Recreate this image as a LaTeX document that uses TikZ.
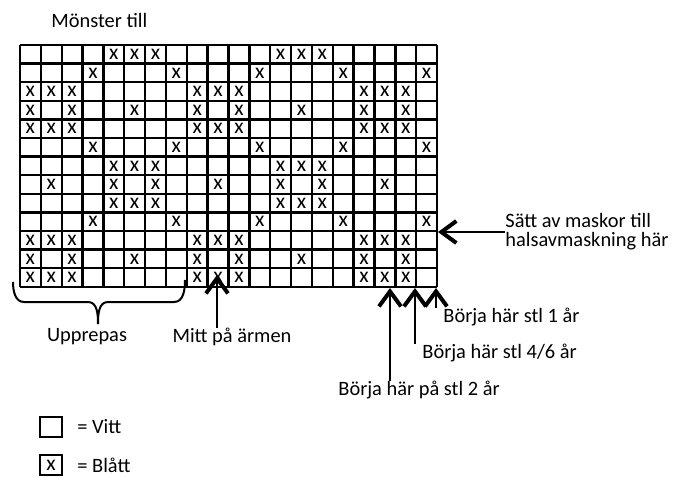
\documentclass[tikz,border=0pt]{standalone}
\usepackage{fontspec}
\setmainfont{Carlito}
\usetikzlibrary{arrows.meta}

\tikzset{
  lbl/.style = {font=\fontsize{10.2}{9.5}\selectfont, inner sep=0pt},
  cellx/.style = {font=\fontsize{10.8}{12}\selectfont, inner sep=0pt},
  keybox/.style = {draw, line width=1.3pt, minimum width=11pt, minimum height=10pt,
    inner sep=0pt, font=\fontsize{10.8}{12}\selectfont},
  arr/.style = {line width=1pt, -{Straight Barb[length=7.5pt, width=11pt, line width=2pt]}},
}

\begin{document}
\begin{tikzpicture}[x=0.5pt, y=-0.5pt]
    \useasboundingbox (0,0) rectangle (686,477);

    \node[lbl, anchor=west] (title) at (51,20) {Mönster till};

    % chart, 20 x 13
    \begin{scope}[shift={(20,45)}, x=10.425pt, y=-9.3pt]
      \foreach \i in {0,...,20} \draw[line width=1.2pt] (\i,0) -- (\i,13);
      \foreach \j in {0,...,13} \draw[line width=1.2pt] (0,\j) -- (20,\j);
      \foreach \r/\cols in {1/{5,6,7,13,14,15}, 2/{4,8,12,16,20},
          3/{1,2,3,9,10,11,17,18,19}, 4/{1,3,6,9,11,14,17,19},
          5/{1,2,3,9,10,11,17,18,19}, 6/{4,8,12,16,20},
          7/{5,6,7,13,14,15}, 8/{2,5,7,10,13,15,18},
          9/{5,6,7,13,14,15}, 10/{4,8,12,16,20},
          11/{1,2,3,9,10,11,17,18,19}, 12/{1,3,6,9,11,14,17,19},
          13/{1,2,3,9,10,11,17,18,19}} {
        \foreach \c in \cols
          \node[cellx] (x-\r-\c) at (\c-0.5,\r-0.5) {x};
      }
    \end{scope}

    % brace
    \coordinate (bl) at (13,282);
    \coordinate (br) at (185,280);
    \coordinate (bt) at (98,324);
    \draw[line width=1pt] (bl) to[out=-90, in=180] (24,302) -- (88,302)
      to[out=0, in=90] (bt);
    \draw[line width=1pt] (br) to[out=-90, in=0] (174,302) -- (108,302)
      to[out=180, in=90] (bt);
    \node[lbl] (rep) at (87,337) {Upprepas};

    \node[lbl] (mid) at (232,337) {Mitt på ärmen};
    \coordinate (tmid) at (217,275);
    \draw[arr] (mid.north -| tmid) -- (tmid);

    \node[lbl, anchor=west, align=left] (neck) at (505,232)
      {Sätt av maskor till\\halsavmaskning här};
    \coordinate (tneck) at (438,232);
    \draw[arr] (neck.west) -- (tneck);

    \node[lbl, anchor=west] (s1) at (443,317) {Börja här stl 1 år};
    \node[lbl, anchor=west] (s46) at (422,353) {Börja här stl 4/6 år};
    \node[lbl, anchor=west] (s2) at (338,390) {Börja här på stl 2 år};
    \coordinate (t1) at (436,288);
    \coordinate (t46) at (415,288);
    \coordinate (t2) at (390,288);
    \draw[arr] (t1 |- s1.north) -- (t1);
    \draw[arr] (t46 |- s46.north) -- (t46);
    \draw[arr] (t2 |- s2.north) -- (t2);

    % key
    \node[keybox] (kw) at (51,427) {};
    \node[lbl, anchor=west] (kwt) at (77,427) {= Vitt};
    \node[keybox] (kb) at (51,465) {x};
    \node[lbl, anchor=west] (kbt) at (77,465) {= Blått};
\end{tikzpicture}
\end{document}
